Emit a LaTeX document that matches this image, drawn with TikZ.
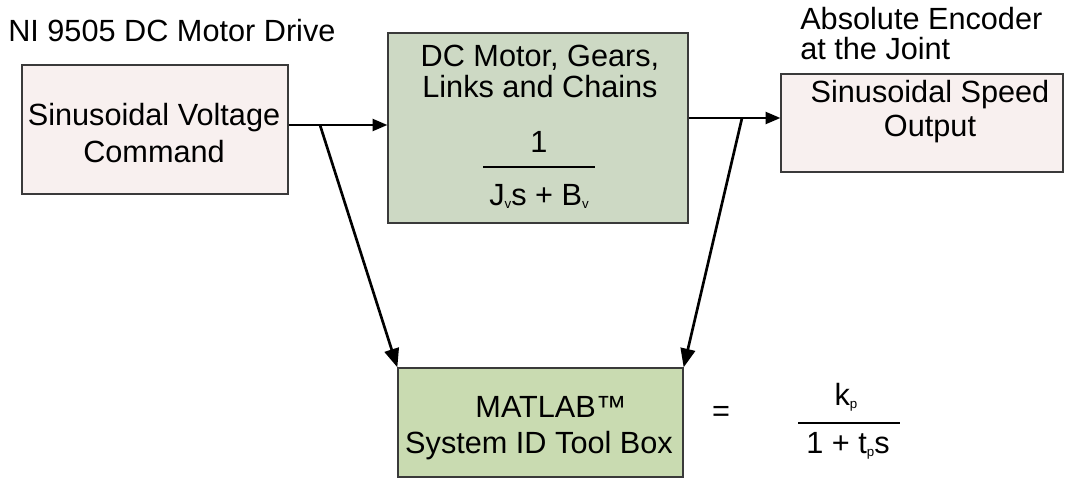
\documentclass[tikz,border=0pt]{standalone}
\usepackage{fontspec}
\setmainfont{Liberation Sans}
\usetikzlibrary{positioning,arrows.meta}

\definecolor{cmdpink}{HTML}{F8F0EF}
\definecolor{plantgreen}{HTML}{CDD9C4}
\definecolor{idgreen}{HTML}{C9DBB1}
\definecolor{boxline}{HTML}{3A3A3A}

% small lowered index letter
\newcommand{\lo}[1]{\raisebox{-0.1em}{\fontsize{10}{10}\selectfont #1}}

\tikzset{
  block/.style={draw=boxline, line width=1pt, inner sep=0pt},
  txt/.style={inner sep=0pt, font=\fontsize{23}{#1}\selectfont},
  txt/.default=27.5pt,
  sig/.style={-{Triangle[length=11pt,width=9pt]}, line width=1.5pt},
  tap/.style={-{Triangle[length=14pt,width=11pt]}, line width=2pt},
}

\begin{document}
\begin{tikzpicture}[x=0.75pt, y=-0.75pt]
		\useasboundingbox (0,0) rectangle (1066,481);
		
		\node[block, fill=cmdpink, minimum width=199.5pt, minimum height=96.75pt] (cmd) at (155,129.5) {};
		\node[block, fill=plantgreen, minimum width=225pt, minimum height=142.5pt] (plant) at (538,128) {};
		\node[block, fill=cmdpink, minimum width=211.5pt, minimum height=73.5pt] (enc) at (922,123) {};
		\node[block, fill=idgreen, minimum width=213.75pt, minimum height=81.75pt] (matlab) at (540.5,422.5) {};
		
		% labels (base = last line)
		\node[txt, anchor=base west] (drive) at (8,42) {NI 9505 DC Motor Drive};
		\node[txt, anchor=base, align=center] (cmdname) at (154,162) {Sinusoidal Voltage\\Command};
		\node[txt=23.8pt, anchor=base, align=center] (plantname) at (540,98) {DC Motor, Gears,\\Links and Chains};
		\node[txt, anchor=base] (one) at (539,152) {1};
		\node[txt, anchor=base] (jden) at (539,205) {J\lo{v}s + B\lo{v}};
		\node[txt=22.5pt, anchor=base west, align=left] (absenc) at (800,60) {Absolute Encoder\\at the Joint};
		\node[txt=25.5pt, anchor=base, align=center] (encname) at (930,137) {Sinusoidal Speed\\Output};
		\node[txt=27pt, anchor=base, align=center] (matlabname) at (539,453) {\hspace*{18pt}MATLAB™\\System ID Tool Box};
		
		\node[txt, anchor=base] (eq) at (721,421) {=};
		\node[txt, anchor=base] (kp) at (846,405) {k\lo{p}};
		\node[txt, anchor=base] (tp) at (848,453) {1 + t\lo{p}s};
		
		% fraction bars
		\draw[line width=2pt] (483,167) -- (595,167);
		\draw[line width=2pt] (798,423) -- (900,423);
		
		% signals
		\coordinate (cmdtap) at (320,125);
		\coordinate (outtap) at (742,118);
		\draw[sig] (cmd.east |- cmdtap) -- (plant.west |- cmdtap);
		\draw[tap] (cmdtap) -- (matlab.north west);
		\draw[sig] (plant.east |- outtap) -- (enc.west |- outtap);
		\draw[tap] (outtap) -- (matlab.north east);
		
\end{tikzpicture}
\end{document}
